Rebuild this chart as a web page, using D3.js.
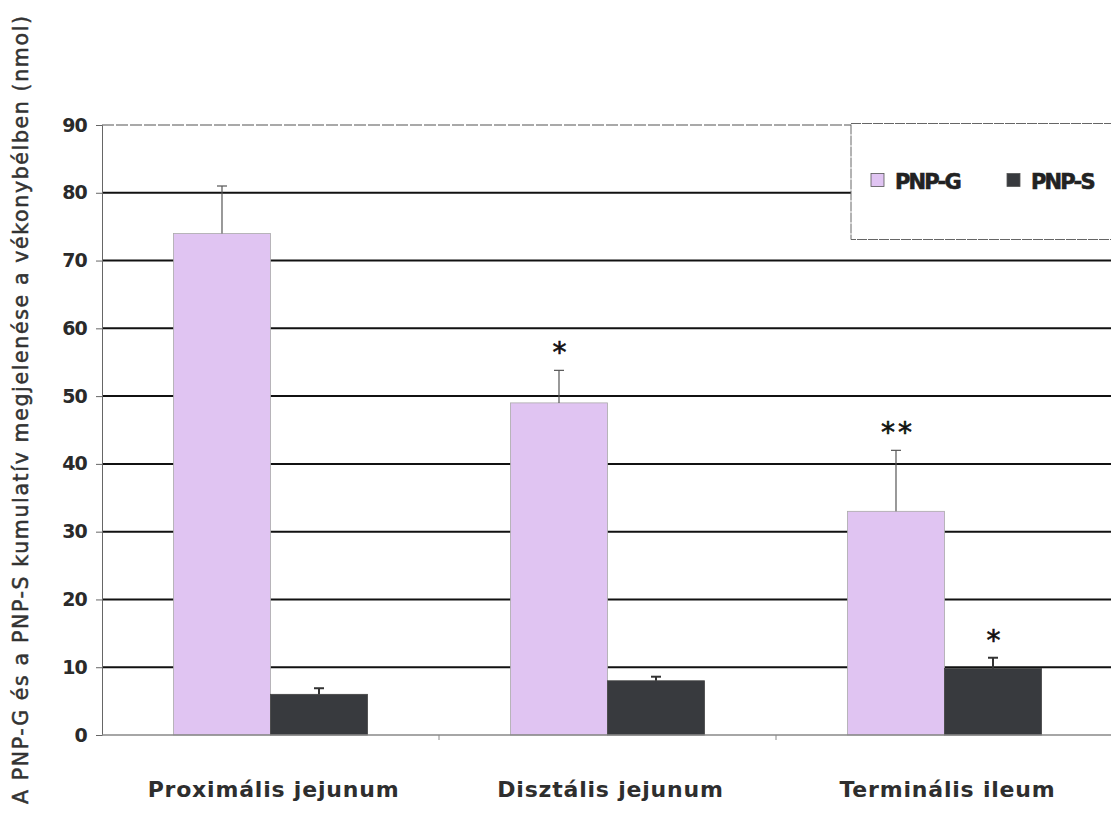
<!DOCTYPE html>
<html>
<head>
<meta charset="utf-8">
<script src="https://cdn.jsdelivr.net/npm/d3@7"></script>
<style>
  html, body { margin: 0; padding: 0; background: #fff; }
  svg { display: block; }
</style>
</head>
<body>
<svg id="chart" width="1111" height="825"></svg>
<script>
// Segments of the small intestine
const categories = ["Proximális jejunum", "Disztális jejunum", "Terminális ileum"];
const seriesNames = ["PNP-G", "PNP-S"];
// Mean cumulative appearance (nmol)
const pnpG = [74, 49, 33];
const pnpS = [6, 8, 9.8];
// Upper end of error bars (mean + SE)
const pnpGErr = [81, 53.8, 42];
const pnpSErr = [6.9, 8.6, 11.4];
// Significance marks above bars
const pnpGSig = ["", "*", "**"];
const pnpSSig = ["", "", "*"];
const yTicks = [0, 10, 20, 30, 40, 50, 60, 70, 80, 90];
const yTitle = "A PNP-G és a PNP-S kumulatív megjelenése a vékonybélben (nmol)";

(function () {
  const colors = { "PNP-G": "#e0c4f2", "PNP-S": "#383a3e" };

  const svg = d3.select("#chart");
  const plotLeft = 102, plotRight = 1113, plotTop = 125, plotBottom = 735;

  const x = d3.scaleBand().domain(categories).range([plotLeft, plotRight]).paddingInner(0).paddingOuter(0);
  const xs = d3.scaleBand().domain(seriesNames).range([0, x.bandwidth()]).paddingInner(0).paddingOuter(0.737);
  const y = d3.scaleLinear().domain([0, 90]).range([plotBottom, plotTop]);

  // Gridlines
  svg.append("g").selectAll("line")
    .data(yTicks.filter(t => t > 0 && t < 90))
    .join("line")
    .attr("x1", plotLeft).attr("x2", 1111)
    .attr("y1", d => y(d)).attr("y2", d => y(d))
    .attr("stroke", "#111").attr("stroke-width", 2);

  // Top border of plot area
  svg.append("line")
    .attr("x1", plotLeft).attr("x2", 1111).attr("y1", y(90)).attr("y2", y(90))
    .attr("stroke", "#555").attr("stroke-width", 1.2).attr("stroke-dasharray", "12,2");

  // Y axis
  const yAxis = d3.axisLeft(y).tickValues(yTicks).tickSize(6).tickPadding(9);
  const gy = svg.append("g").attr("transform", `translate(${plotLeft},0)`).call(yAxis);
  gy.select(".domain").attr("stroke", "#666");
  gy.selectAll(".tick line").attr("stroke", "#666");
  gy.selectAll(".tick text")
    .attr("font-family", "DejaVu Sans, sans-serif")
    .attr("font-weight", "bold").attr("font-size", 19).attr("fill", "#2a2a2a")
    .attr("letter-spacing", -0.8);

  // Bars
  const data = [];
  categories.forEach((c, i) => {
    data.push({ cat: c, s: "PNP-G", v: pnpG[i], e: pnpGErr[i], sig: pnpGSig[i] });
    data.push({ cat: c, s: "PNP-S", v: pnpS[i], e: pnpSErr[i], sig: pnpSSig[i] });
  });

  svg.append("g").selectAll("rect").data(data).join("rect")
    .attr("x", d => x(d.cat) + xs(d.s))
    .attr("width", xs.bandwidth())
    .attr("y", d => y(d.v))
    .attr("height", d => y(0) - y(d.v))
    .attr("fill", d => colors[d.s])
    .attr("stroke", d => d.s === "PNP-G" ? "#aaa" : "#444")
    .attr("stroke-width", 0.8);

  // Error bars and significance marks
  const err = svg.append("g");
  data.forEach(d => {
    const cx = x(d.cat) + xs(d.s) + xs.bandwidth() / 2;
    const col = d.s === "PNP-G" ? "#555" : "#333";
    const w = d.s === "PNP-G" ? 1.2 : 2;
    err.append("line").attr("x1", cx).attr("x2", cx)
      .attr("y1", y(d.v)).attr("y2", y(d.e))
      .attr("stroke", col).attr("stroke-width", w);
    err.append("line").attr("x1", cx - 5).attr("x2", cx + 5)
      .attr("y1", y(d.e)).attr("y2", y(d.e))
      .attr("stroke", col).attr("stroke-width", w);
    if (d.sig) {
      err.append("text").attr("x", cx + 2).attr("y", y(d.e) - 8)
        .attr("text-anchor", "middle")
        .attr("font-family", "DejaVu Sans, sans-serif")
        .attr("font-size", 28).attr("fill", "#111")
        .attr("stroke", "#111").attr("stroke-width", 0.6)
        .attr("letter-spacing", 3)
        .text(d.sig);
    }
  });

  // X axis baseline and category ticks
  svg.append("line").attr("x1", plotLeft).attr("x2", 1111).attr("y1", plotBottom).attr("y2", plotBottom)
    .attr("stroke", "#888").attr("stroke-width", 1.5);
  svg.append("g").selectAll("line").data(categories.slice(1)).join("line")
    .attr("x1", d => x(d)).attr("x2", d => x(d))
    .attr("y1", plotBottom).attr("y2", plotBottom + 5)
    .attr("stroke", "#888");

  // Category labels
  svg.append("g").selectAll("text").data(categories).join("text")
    .attr("x", d => x(d) + x.bandwidth() / 2 + 3)
    .attr("y", 797)
    .attr("text-anchor", "middle")
    .attr("font-family", "DejaVu Sans, sans-serif")
    .attr("font-weight", "bold").attr("font-size", 22).attr("fill", "#2e2e2e")
    .attr("letter-spacing", 0.8)
    .text(d => d);

  // Y axis title
  svg.append("text")
    .attr("transform", "translate(28,410) rotate(-90)")
    .attr("text-anchor", "middle")
    .attr("font-family", "DejaVu Sans, sans-serif")
    .attr("font-size", 20.5).attr("fill", "#333")
    .attr("stroke", "#333").attr("stroke-width", 0.5)
    .attr("textLength", 788).attr("lengthAdjust", "spacing")
    .text(yTitle);

  // Legend
  const lg = svg.append("g");
  lg.append("rect").attr("x", 851).attr("y", 123.5).attr("width", 280).attr("height", 116)
    .attr("fill", "#fff").attr("stroke", "#666").attr("stroke-width", 1).attr("stroke-dasharray", "10,1");
  const legendX = [871, 1007];
  seriesNames.forEach((s, i) => {
    lg.append("rect").attr("x", legendX[i]).attr("y", 173.5).attr("width", 13).attr("height", 13)
      .attr("fill", colors[s]).attr("stroke", "#555").attr("stroke-width", 0.8);
    lg.append("text").attr("x", legendX[i] + 24).attr("y", 189)
      .attr("font-family", "DejaVu Sans, sans-serif")
      .attr("font-weight", "bold").attr("font-size", 21).attr("fill", "#222")
      .attr("stroke", "#222").attr("stroke-width", 0.6)
      .attr("letter-spacing", -1.8)
      .text(s);
  });
})();
</script>
</body>
</html>
